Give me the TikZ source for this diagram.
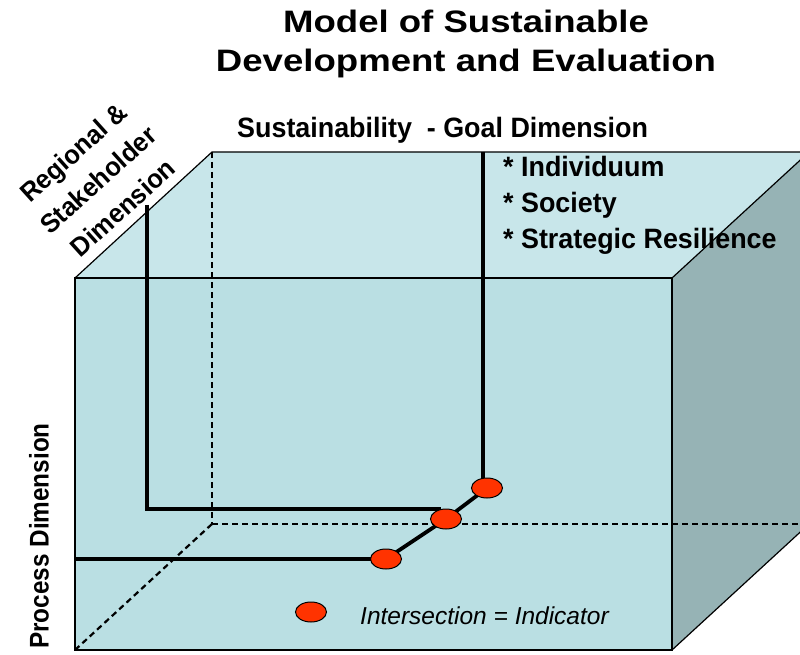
\documentclass[tikz,border=0pt]{standalone}
\usepackage{fontspec}
\setmainfont{Liberation Sans}
\newfontfamily\widefont[FakeStretch=1.18]{Liberation Sans}
\newfontfamily\tallfont[FakeStretch=0.96]{Liberation Sans}
\newfontfamily\narrowfont[FakeStretch=0.9]{Liberation Sans}
\usetikzlibrary{shapes.geometric}

\definecolor{frontface}{HTML}{BADFE3}
\definecolor{topface}{HTML}{C8E6EA}
\definecolor{sideface}{HTML}{96B3B5}
\definecolor{indicator}{HTML}{FF3300}

\tikzset{
  cubeline/.style={line width=1.2pt},
  hidden/.style={line width=2.2pt, dash pattern=on 6pt off 4pt},
  dimline/.style={line width=3.8pt},
  indic/.style={ellipse, draw, line width=1pt, fill=indicator,
    minimum width=31pt, minimum height=20pt, inner sep=0pt},
  goalitem/.style={font=\tallfont\bfseries\fontsize{28}{30}\selectfont, anchor=base west, inner sep=0pt}
}

\begin{document}
\begin{tikzpicture}[x=1pt,y=-1pt]
  \useasboundingbox (0,0) rectangle (800,655);
  \clip (0,0) rectangle (800,655);

  % the box: front, top and side faces
  \fill[frontface] (75,278) rectangle (672,650);
  \fill[topface] (75,278) -- (212,152) -- (809,152) -- (672,278) -- cycle;
  \fill[sideface] (672,278) -- (809,152) -- (809,524) -- (672,650) -- cycle;
  \draw[cubeline] (75,278) rectangle (672,650);
  \draw[cubeline] (75,278) -- (212,152) -- (809,152);
  \draw[cubeline] (672,278) -- (809,152);
  \draw[cubeline] (672,650) -- (809,524);

  % hidden edges
  \coordinate (back) at (212,524);
  \draw[hidden] (212,152) -- (back);
  \draw[hidden] (75,650) -- (back);
  \draw[hidden] (back) -- (809,524);

  % the three dimensions
  \coordinate (low) at (386,559);
  \coordinate (mid) at (446,519);
  \coordinate (top) at (487,488);
  \coordinate (rstart) at (147,205);
  \coordinate (rbend)  at (147,509);
  \coordinate (rend)   at (441,509);
  \coordinate (pstart) at (75,559);
  \coordinate (gstart) at (483,152);
  \draw[dimline] (rstart) -- (rbend) -- (rend);
  \draw[dimline] (pstart) -- (low);
  \draw[dimline] (gstart) -- (gstart |- top);
  \draw[dimline] (low) -- (mid) -- (top);

  % intersections
  \node[indic] (lowdot) at (low) {};
  \node[indic] (middot) at (mid) {};
  \node[indic] (topdot) at (top) {};
  \node[indic] (keydot) at (311,612) {};

  % titles and labels
  \node[font=\widefont\bfseries\fontsize{31}{39}\selectfont, align=center] (title) at (466,44)
    {Model of Sustainable\\Development and Evaluation};
  \node[font=\tallfont\bfseries\fontsize{28}{30}\selectfont, anchor=base west,
    inner sep=0pt] (goal) at (237,138) {Sustainability\ \ - Goal Dimension};
  \node[goalitem] (indiv) at (503,177) {* Individuum};
  \node[goalitem] (society) at (503,212) {* Society};
  \node[goalitem] (resil) at (503,248) {* Strategic Resilience};
  \node[font=\tallfont\bfseries\fontsize{26.5}{37}\selectfont, align=center, rotate=42,
    inner sep=0pt] (region) at (98,180)
    {Regional \&\\Stakeholder\\Dimension};
  \node[font=\narrowfont\bfseries\fontsize{27}{30}\selectfont, rotate=90,
    inner sep=0pt] (process) at (39,536) {Process Dimension};
  \node[font=\itshape\fontsize{24.5}{30}\selectfont, anchor=base west,
    inner sep=0pt] (keytext) at (360,624) {Intersection = Indicator};
\end{tikzpicture}
\end{document}
